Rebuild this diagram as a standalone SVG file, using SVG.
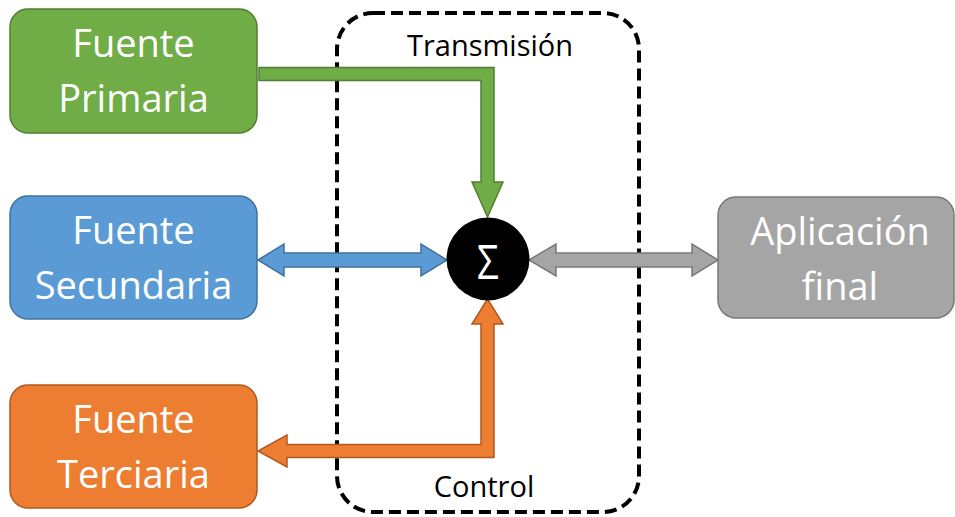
<svg xmlns="http://www.w3.org/2000/svg" width="955" height="517" viewBox="0 0 955 517">
  <style>
    .lbl { font-family: "Open Sans", "Liberation Sans", sans-serif; font-size: 38px; fill: #ffffff; text-anchor: middle; }
    .cap { font-family: "Open Sans", "Liberation Sans", sans-serif; font-size: 29px; fill: #000000; text-anchor: middle; }
    .green { fill: #70AD47; stroke: #507E32; stroke-width: 1.5; }
    .blue { fill: #5B9BD5; stroke: #41719C; stroke-width: 1.5; }
    .orange { fill: #ED7D31; stroke: #AE5A21; stroke-width: 1.5; }
    .gray { fill: #A5A5A5; stroke: #787878; stroke-width: 1.5; }
  </style>
  <rect width="955" height="517" fill="#ffffff"/>

  <g id="zona-transmision-control">
    <rect x="337" y="13" width="302" height="499" rx="36" ry="36" fill="none" stroke="#000" stroke-width="4" stroke-dasharray="12 6"/>
    <text class="cap" x="490" y="56">Transmisión</text>
    <text class="cap" x="484" y="497">Control</text>
  </g>

  <g id="connectors">
    <path class="green" d="M259,67.5 L494,67.5 L494,182 L503,182 L487.5,217 L472,182 L481,182 L481,80.5 L259,80.5 Z"/>
    <path class="blue" d="M258,260 L284,244 L284,253 L421,253 L421,244 L447,260 L421,276 L421,267 L284,267 L284,276 Z"/>
    <path class="gray" d="M529,260 L556,244 L556,253 L692,253 L692,244 L718,260 L692,276 L692,267 L556,267 L556,276 Z"/>
    <path class="orange" d="M487.5,299 L503,324 L494,324 L494,457.5 L287,457.5 L287,467 L258,451 L287,435 L287,444.5 L481,444.5 L481,324 L472,324 Z"/>
  </g>

  <g id="fuente-primaria">
    <rect class="green" x="10" y="9" width="247" height="124" rx="18" ry="18"/>
    <text class="lbl" x="133.5" y="57">Fuente</text>
    <text class="lbl" x="133.5" y="112">Primaria</text>
  </g>

  <g id="fuente-secundaria">
    <rect class="blue" x="10" y="196" width="247" height="123" rx="18" ry="18"/>
    <text class="lbl" x="133.5" y="244">Fuente</text>
    <text class="lbl" x="133.5" y="299">Secundaria</text>
  </g>

  <g id="fuente-terciaria">
    <rect class="orange" x="10" y="385" width="247" height="123" rx="18" ry="18"/>
    <text class="lbl" x="133.5" y="433">Fuente</text>
    <text class="lbl" x="133.5" y="488">Terciaria</text>
  </g>

  <g id="aplicacion-final">
    <rect class="gray" x="718" y="197" width="236" height="121" rx="18" ry="18"/>
    <text class="lbl" x="840" y="245">Aplicación</text>
    <text class="lbl" x="840" y="300">final</text>
  </g>

  <g id="suma">
    <circle cx="488" cy="259" r="41.5" fill="#000000"/>
    <text x="488" y="279" font-family="Open Sans, Liberation Sans, sans-serif" font-size="48" fill="#ffffff" text-anchor="middle" transform="translate(488 0) scale(0.8 1) translate(-488 0)">Σ</text>
  </g>
</svg>
